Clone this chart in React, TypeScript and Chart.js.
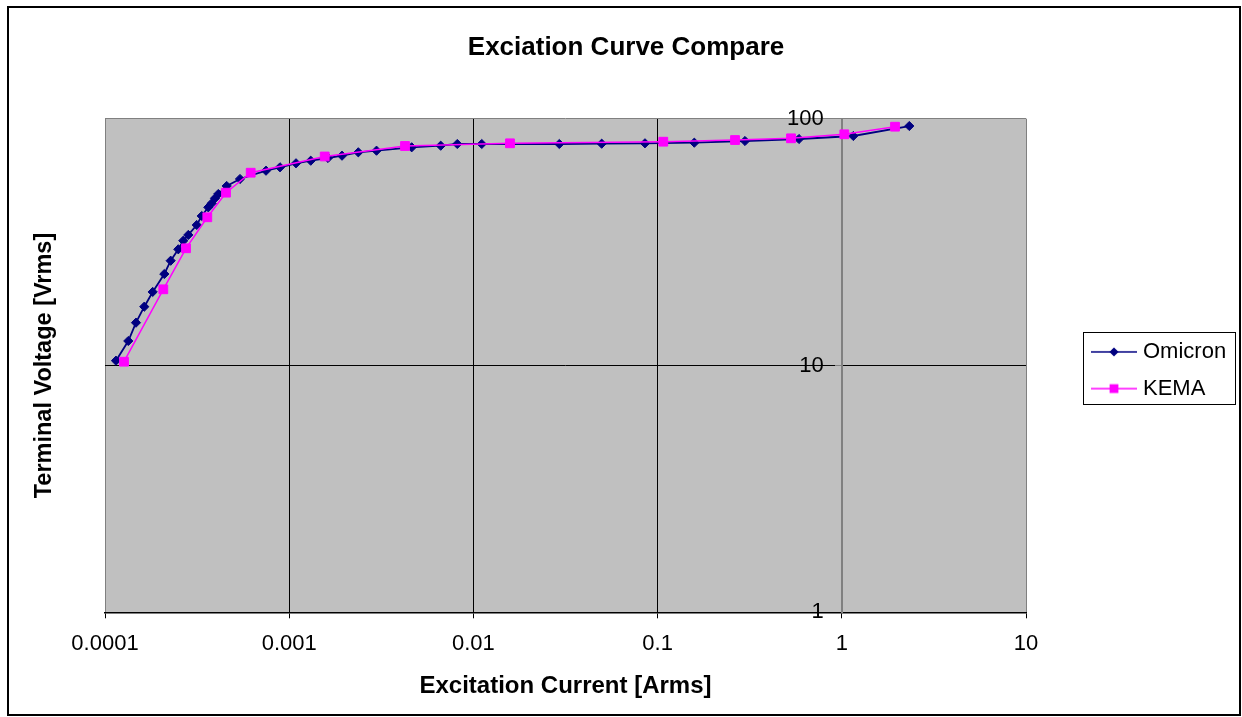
import React, { useEffect, useRef } from 'react';
import { Chart, registerables } from 'chart.js';

Chart.register(...registerables);

// ---- data ----
const seriesNames = ['Omicron', 'KEMA'];
const omicronCurrent = [
  0.0001147, 0.0001338, 0.0001473, 0.0001634, 0.0001815, 0.0002099, 0.0002273, 0.00025,
  0.0002661, 0.0002833, 0.0003148, 0.000335, 0.0003638, 0.0003796, 0.0003955, 0.0004122,
  0.0004578, 0.0005407, 0.0007482, 0.0008913, 0.001089, 0.001309, 0.001624, 0.001935,
  0.002372, 0.002979, 0.004624, 0.006645, 0.008176, 0.0111, 0.02927, 0.04971,
  0.0854, 0.1582, 0.2982, 0.5855, 1.1545, 2.325,
];
const omicronVoltage = [
  10.46, 12.57, 14.91, 17.31, 19.86, 23.48, 26.58, 29.57,
  32.04, 33.8, 37.1, 40.35, 43.75, 45.42, 47.59, 49.54,
  53.38, 56.98, 61.55, 63.54, 65.97, 67.58, 69.31, 70.81,
  73.09, 74.2, 76.58, 77.73, 78.98, 78.98, 78.98, 79.2,
  79.49, 79.95, 81.21, 82.74, 85.1, 93.4,
];
const kemaCurrent = [
  0.0001268, 0.0002073, 0.0002753, 0.0003593, 0.0004538, 0.000618, 0.001559,
  0.004253, 0.0158, 0.1074, 0.2632, 0.53, 1.032, 1.945,
];
const kemaVoltage = [
  10.36, 20.36, 29.85, 39.86, 50.15, 60.41, 70.29,
  77.52, 79.49, 80.69, 81.97, 83.28, 86.47, 92.8,
];
const xTickValues = [0.0001, 0.001, 0.01, 0.1, 1, 10];
const xTickLabels = ['0.0001', '0.001', '0.01', '0.1', '1', '10'];
const yTickValues = [1, 10, 100];
const yTickLabels = ['1', '10', '100'];
const yAxisCrossesAt = 1;
const titleText = 'Exciation Curve Compare';
const xTitleText = 'Excitation Current [Arms]';
const yTitleText = 'Terminal Voltage [Vrms]';

const FONT = "'Liberation Sans', Arial, Helvetica, sans-serif";
const W = 1242;
const H = 717;

function makeMarker(color: string, shape: 'diamond' | 'square') {
  const c = document.createElement('canvas');
  c.width = 46;
  c.height = 12;
  const g = c.getContext('2d')!;
  g.strokeStyle = color;
  g.lineWidth = 1.5;
  g.beginPath();
  g.moveTo(0, 6);
  g.lineTo(46, 6);
  g.stroke();
  g.fillStyle = color;
  if (shape === 'diamond') {
    g.beginPath();
    g.moveTo(23, 1.4);
    g.lineTo(27.6, 6);
    g.lineTo(23, 10.6);
    g.lineTo(18.4, 6);
    g.closePath();
    g.fill();
  } else {
    g.fillRect(18.6, 1.6, 8.8, 8.8);
  }
  return c;
}

export default function App() {
  const ref = useRef<HTMLCanvasElement>(null);

  useEffect(() => {
    const canvas = ref.current!;
    const legendFontSize = 22;
    const legendPad = 14.7;
    const legendBoxW = 36;
    const mctx = document.createElement('canvas').getContext('2d')!;
    mctx.font = `${legendFontSize}px ${FONT}`;
    const textW = Math.max(...seriesNames.map((s) => mctx.measureText(s).width));
    const legendW = legendPad + legendBoxW + legendFontSize / 2 + textW + 10;
    const legendLeft = 1081.3;
    const plotRight = 1026;
    const padR = Math.max(0, W - legendLeft - legendW);
    const padL = padR + 10;
    const padT = 23.5;
    // y labels sit 18px to the left of the crossing axis (decades span ~184.2px)
    const labelAxisAt = yAxisCrossesAt * Math.pow(10, -18 / 184.2);

    const markers = [makeMarker('#000080', 'diamond'), makeMarker('#FF00FF', 'square')];

    const gridColorX = (ctx: any) => {
      const v = ctx.tick ? ctx.tick.value : 0;
      if (Math.abs(v - 0.0001) < 1e-9 || Math.abs(v - 1) < 1e-9 || Math.abs(v - 10) < 1e-9) return '#808080';
      return '#000000';
    };
    const gridColorY = (ctx: any) => {
      const v = ctx.tick ? ctx.tick.value : 0;
      if (Math.abs(v - 100) < 1e-9) return '#808080';
      return '#000000';
    };

    const bgPlugin = {
      id: 'bgPlugin',
      beforeDraw(chart: any) {
        const { ctx, chartArea } = chart;
        ctx.save();
        ctx.fillStyle = '#ffffff';
        ctx.fillRect(0, 0, chart.width, chart.height);
        ctx.fillStyle = '#C0C0C0';
        ctx.fillRect(chartArea.left, chartArea.top, chartArea.right - chartArea.left, chartArea.bottom - chartArea.top);
        ctx.restore();
      },
      afterDraw(chart: any) {
        const { ctx } = chart;
        ctx.save();
        ctx.strokeStyle = '#000000';
        ctx.lineWidth = 2;
        ctx.strokeRect(8, 7, 1232, 708);
        const hb = chart.legend && chart.legend.legendHitBoxes;
        if (hb && hb.length) {
          const left = Math.min(...hb.map((h: any) => h.left)) - 13;
          const top = hb[0].top - 9;
          const right = Math.max(...hb.map((h: any) => h.left + h.width)) + 9;
          const last = hb[hb.length - 1];
          const bottom = last.top + last.height + 4.3;
          ctx.lineWidth = 1;
          ctx.strokeRect(Math.round(left) + 0.5, Math.round(top) + 0.5, Math.round(right - left), Math.round(bottom - top));
        }
        ctx.restore();
      },
    };

    const chart = new Chart(canvas, {
      type: 'scatter',
      plugins: [bgPlugin],
      data: {
        datasets: [
          {
            label: seriesNames[0],
            data: omicronCurrent.map((x, i) => ({ x, y: omicronVoltage[i] })),
            showLine: true,
            borderColor: '#000080',
            backgroundColor: '#000080',
            borderWidth: 1.8,
            pointStyle: 'rectRot',
            pointRadius: 4.6,
            pointBorderWidth: 1,
            pointBorderColor: '#000080',
            pointBackgroundColor: '#000080',
            order: 1,
            xAxisID: 'x',
            yAxisID: 'y',
          },
          {
            label: seriesNames[1],
            data: kemaCurrent.map((x, i) => ({ x, y: kemaVoltage[i] })),
            showLine: true,
            borderColor: '#FF00FF',
            backgroundColor: '#FF00FF',
            borderWidth: 1.5,
            pointStyle: 'rect',
            pointRadius: 6.2,
            pointBorderWidth: 1,
            pointBorderColor: '#FF00FF',
            pointBackgroundColor: '#FF00FF',
            order: 0,
            xAxisID: 'x',
            yAxisID: 'y',
          },
        ],
      },
      options: {
        responsive: false,
        animation: false,
        devicePixelRatio: 1,
        layout: { padding: { left: padL, right: padR, top: padT, bottom: 0 } },
        plugins: {
          tooltip: { enabled: false },
          title: {
            display: true,
            text: titleText,
            color: '#000000',
            font: { family: FONT, size: 26, weight: 'bold' },
            padding: { top: 47.5 - 15.6 - padT, bottom: 118.7 - 47.5 - 15.6 },
          },
          legend: {
            display: true,
            position: 'right',
            align: 'center',
            maxWidth: 600,
            labels: {
              usePointStyle: true,
              pointStyleWidth: legendBoxW,
              padding: legendPad,
              color: '#000000',
              font: { family: FONT, size: legendFontSize },
              sort: (a: any, b: any) => a.datasetIndex - b.datasetIndex,
              generateLabels: (ch: any) => {
                const items = (Chart.defaults as any).plugins.legend.labels.generateLabels(ch);
                return items.map((it: any) => ({ ...it, pointStyle: markers[it.datasetIndex] }));
              },
            },
          },
        },
        scales: {
          x: {
            type: 'logarithmic',
            position: 'bottom',
            min: 0.0001,
            max: 10,
            afterBuildTicks: (s: any) => {
              s.ticks = xTickValues.map((v) => ({ value: v }));
            },
            afterFit: (s: any) => {
              s.height = H - 612.3;
            },
            ticks: {
              autoSkip: false,
              maxRotation: 0,
              padding: 12.5,
              color: '#000000',
              font: { family: FONT, size: 22 },
              callback: (_v: any, i: number) => xTickLabels[i],
            },
            grid: {
              color: gridColorX,
              lineWidth: 1,
              tickColor: '#000000',
              tickLength: 6,
              drawTicks: true,
            },
            border: { display: true, color: '#000000', width: 1.5 },
            title: {
              display: true,
              text: xTitleText,
              color: '#000000',
              font: { family: FONT, size: 24, weight: 'bold' },
              padding: { top: 0, bottom: 16.2 },
            },
          },
          y: {
            type: 'logarithmic',
            position: { x: yAxisCrossesAt },
            min: 1,
            max: 100,
            afterBuildTicks: (s: any) => {
              s.ticks = yTickValues.map((v) => ({ value: v }));
            },
            ticks: { display: false },
            grid: {
              color: gridColorY,
              lineWidth: 1,
              tickColor: '#808080',
              tickLength: 6,
              drawTicks: true,
            },
            border: { display: true, color: '#808080', width: 2 },
          },
          yLabels: {
            type: 'logarithmic',
            axis: 'y',
            position: { x: labelAxisAt },
            min: 1,
            max: 100,
            afterBuildTicks: (s: any) => {
              s.ticks = yTickValues.map((v) => ({ value: v }));
            },
            ticks: {
              autoSkip: false,
              color: '#000000',
              font: { family: FONT, size: 22 },
              callback: (_v: any, i: number) => yTickLabels[i],
            },
            grid: { display: false },
            border: { display: false },
          },
          yLeft: {
            type: 'linear',
            axis: 'y',
            position: 'left',
            afterFit: (s: any) => {
              s.width = 105 - padL;
            },
            ticks: { display: false },
            grid: { display: false },
            border: { display: false },
            title: {
              display: true,
              text: yTitleText,
              color: '#000000',
              font: { family: FONT, size: 23.5, weight: 'bold' },
              padding: { top: 45 - 14.1 - padL, bottom: 0 },
            },
          },
          ySpacer: {
            type: 'linear',
            axis: 'y',
            position: 'right',
            afterFit: (s: any) => {
              s.width = legendLeft - plotRight;
            },
            ticks: { display: false },
            grid: { display: false },
            border: { display: false },
          },
        },
      } as any,
    } as any);

    return () => chart.destroy();
  }, []);

  return (
    <div style={{ position: 'fixed', left: 0, top: 0, width: W, height: H, background: '#ffffff' }}>
      <canvas ref={ref} width={W} height={H} style={{ display: 'block', width: W, height: H }} />
    </div>
  );
}
